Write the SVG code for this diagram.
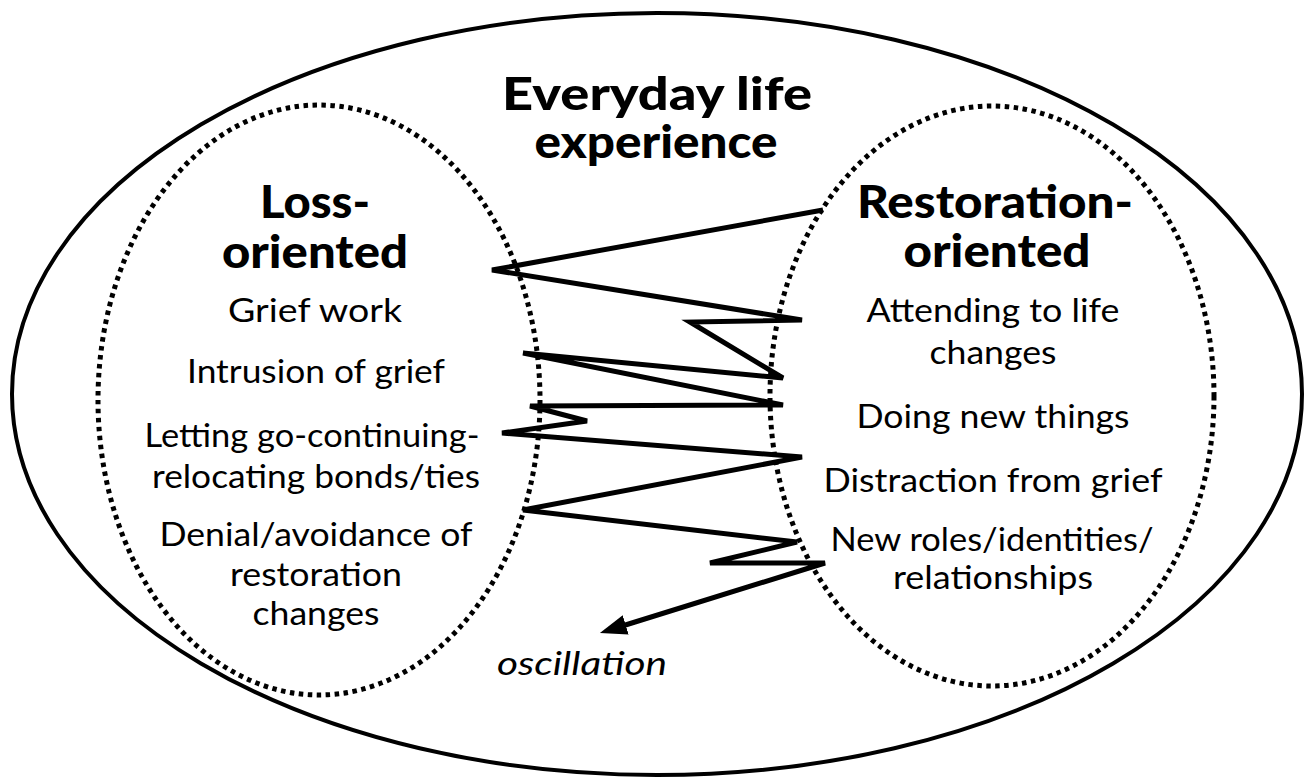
<svg xmlns="http://www.w3.org/2000/svg" width="1306" height="781" viewBox="0 0 1306 781">
  <style>
    .outer { fill: none; stroke: #000; stroke-width: 4; }
    .dotted { fill: none; stroke: #000; stroke-width: 5; stroke-dasharray: 4.5 4.5; }
    .head { font-family: "Lato", "Liberation Sans", sans-serif; font-weight: 900; font-size: 46px; fill: #000; text-anchor: middle; }
    .item { font-family: "Lato", "Liberation Sans", sans-serif; font-weight: 400; font-size: 32px; fill: #000; text-anchor: middle; }
    .osc { font-family: "Lato", "Liberation Sans", sans-serif; font-style: italic; font-size: 32px; fill: #000; text-anchor: middle; }
    .zig { fill: none; stroke: #000; stroke-width: 5; stroke-linejoin: miter; stroke-linecap: butt; }
  </style>
  <defs>
    <marker id="arrow" viewBox="0 0 27 20" refX="7" refY="10" markerWidth="27" markerHeight="20" orient="auto" markerUnits="userSpaceOnUse">
      <path d="M0,0 L27,10 L0,20 z" fill="#000"/>
    </marker>
  </defs>
  <rect width="1306" height="781" fill="#fff"/>

  <g id="everyday-life">
    <ellipse class="outer" cx="657" cy="394" rx="645" ry="381"/>
    <text class="head" x="657" y="110" textLength="310" lengthAdjust="spacingAndGlyphs">Everyday life</text>
    <text class="head" x="656" y="158" textLength="243" lengthAdjust="spacingAndGlyphs">experience</text>
  </g>

  <g id="loss-oriented">
    <ellipse class="dotted" cx="319" cy="400" rx="221" ry="295"/>
    <text class="head" x="315" y="218" textLength="110" lengthAdjust="spacingAndGlyphs">Loss-</text>
    <text class="head" x="315" y="268" textLength="186" lengthAdjust="spacingAndGlyphs">oriented</text>
    <text class="item" x="315" y="322" textLength="174" lengthAdjust="spacingAndGlyphs">Grief work</text>
    <text class="item" x="316" y="383" textLength="258" lengthAdjust="spacingAndGlyphs">Intrusion of grief</text>
    <text class="item" x="312" y="447" textLength="335" lengthAdjust="spacingAndGlyphs">Letting go-continuing-</text>
    <text class="item" x="316" y="488" textLength="328" lengthAdjust="spacingAndGlyphs">relocating bonds/ties</text>
    <text class="item" x="316" y="546" textLength="313" lengthAdjust="spacingAndGlyphs">Denial/avoidance of</text>
    <text class="item" x="316" y="586" textLength="172" lengthAdjust="spacingAndGlyphs">restoration</text>
    <text class="item" x="316" y="625" textLength="127" lengthAdjust="spacingAndGlyphs">changes</text>
  </g>

  <g id="restoration-oriented">
    <ellipse class="dotted" cx="992" cy="396" rx="222" ry="290"/>
    <text class="head" x="995" y="218" textLength="276" lengthAdjust="spacingAndGlyphs">Restoration-</text>
    <text class="head" x="997" y="267" textLength="187" lengthAdjust="spacingAndGlyphs">oriented</text>
    <text class="item" x="993" y="322" textLength="253" lengthAdjust="spacingAndGlyphs">Attending to life</text>
    <text class="item" x="993" y="364" textLength="127" lengthAdjust="spacingAndGlyphs">changes</text>
    <text class="item" x="993" y="428" textLength="273" lengthAdjust="spacingAndGlyphs">Doing new things</text>
    <text class="item" x="993" y="492" textLength="339" lengthAdjust="spacingAndGlyphs">Distraction from grief</text>
    <text class="item" x="992" y="551" textLength="323" lengthAdjust="spacingAndGlyphs">New roles/identities/</text>
    <text class="item" x="993" y="589" textLength="200" lengthAdjust="spacingAndGlyphs">relationships</text>
  </g>

  <g id="connectors">
    <polyline id="oscillation-path" class="zig" marker-end="url(#arrow)"
      points="823,210 492,270 802,320 690,322 783,378 523,353 783,405 530,406 587,421 502,433 802,457 523,510 797,542 710,563 825,563 619,627"/>
    <text class="osc" x="582" y="675" textLength="170" lengthAdjust="spacingAndGlyphs">oscillation</text>
  </g>
</svg>
